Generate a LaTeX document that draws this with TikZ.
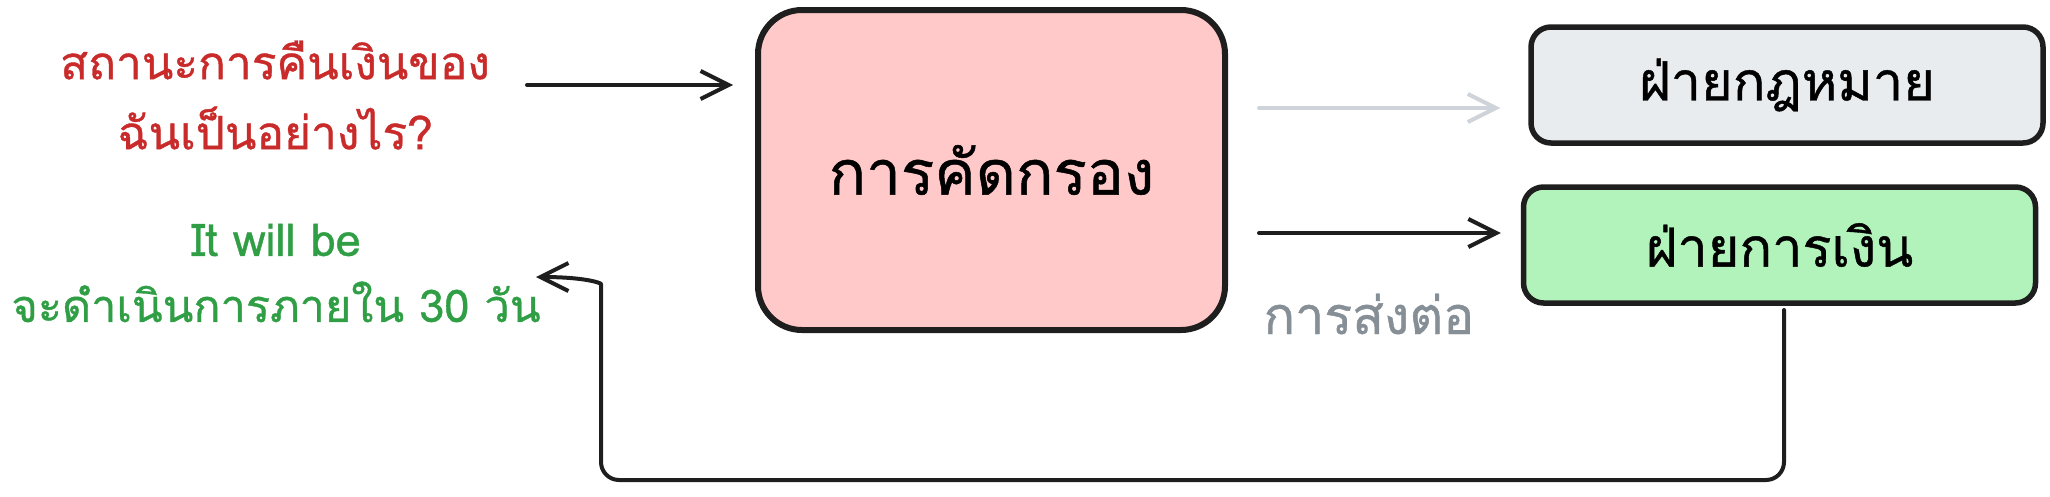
\documentclass[tikz,border=0pt]{standalone}
\usepackage{fontspec}
\usetikzlibrary{arrows.meta}
\newfontfamily\thai[Script=Thai,FakeBold=0.8]{Loma}
\definecolor{qred}{HTML}{C92A2A}
\definecolor{agreen}{HTML}{2F9E44}
\definecolor{lblgray}{HTML}{868E96}
\definecolor{arrgray}{HTML}{CED4DA}
\definecolor{pinkfill}{HTML}{FFC9C9}
\definecolor{grayfill}{HTML}{E9ECEF}
\definecolor{greenfill}{HTML}{B2F2BB}
\definecolor{ink}{HTML}{1E1E1E}
\begin{document}
\begin{tikzpicture}[x=1pt,y=-1pt,
  boxbase/.style={draw=ink, line width=5.5pt, inner sep=0pt, font=\thai},
  bigbox/.style={boxbase, line width=6pt, fill=pinkfill, rounded corners=44pt, minimum width=467pt, minimum height=320pt, font=\thai\fontsize{62}{72}\selectfont},
  deptbox/.style={boxbase, rounded corners=20pt, minimum width=512pt, minimum height=116pt, font=\thai\fontsize{54}{64}\selectfont},
  sidetext/.style={align=center, inner sep=0pt},
  conn/.style={draw=ink, line width=4pt, line cap=round, line join=round, -{Straight Barb[length=28pt,width=28pt,line width=4pt]}},
  graycon/.style={conn, draw=arrgray},
]
\useasboundingbox (0,0) rectangle (2050,496);

\node[sidetext, text=qred, font=\thai\fontsize{46}{70}\selectfont] (q) at (275,95) {สถานะการคืนเงินของ\\ฉันเป็นอย่างไร?};
\node[bigbox] (screen) at (991.5,170) {การคัดกรอง};
\node[deptbox, fill=grayfill] (legal) at (1787,85) {ฝ่ายกฎหมาย};
\node[deptbox, fill=greenfill] (fin) at (1779.5,245) {ฝ่ายการเงิน};
\node[inner sep=0pt, text=lblgray, font=\thai\fontsize{52}{62}\selectfont] (lbl) at (1369,314) {การส่งต่อ};
\node[sidetext, text=agreen, font=\thai\fontsize{45}{66}\selectfont] (ans) at (276,273) {It will be\\จะดำเนินการภายใน 30 วัน};

\coordinate (a1) at (527,85);
\coordinate (a2) at (1259,108);
\coordinate (a3) at (1259,233);
\coordinate (r1) at (1784,310);
\coordinate (r2) at (601,480);
\coordinate (rt) at (536,277);

\draw[conn, shorten >=22pt] (a1) -- (a1 -| screen.west);
\draw[graycon, shorten >=28pt] (a2) -- (a2 -| legal.west);
\draw[conn, shorten >=20pt] (a3) -- (a3 -| fin.west);
\draw[conn, rounded corners=18pt] (r1) -- (r1 |- r2) -- (r2) -- (601,302)
  .. controls (601,283) and (585,277) .. (rt);
\end{tikzpicture}
\end{document}
